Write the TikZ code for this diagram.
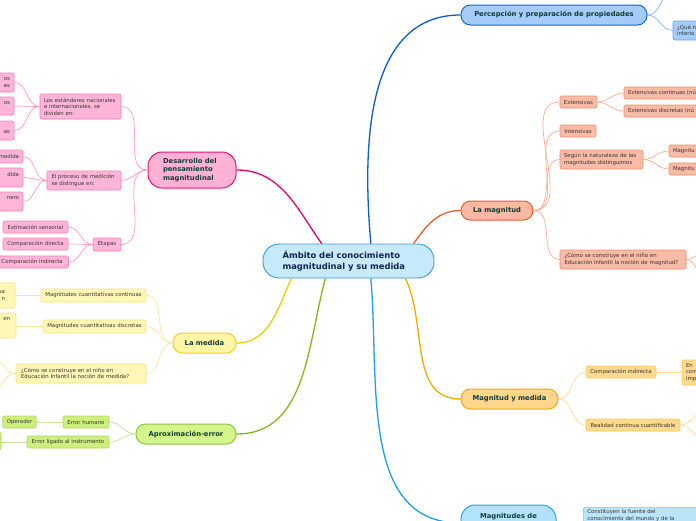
\documentclass[tikz,border=0pt]{standalone}
\usepackage{fontspec}
\setmainfont{DejaVu Sans}
\usepackage{tikz}
\usetikzlibrary{arrows,shapes,positioning}

\definecolor{ctrF}{HTML}{C6E9FC}\definecolor{ctrD}{HTML}{3A98D8}\definecolor{ctrT}{HTML}{10264D}
\definecolor{ttl}{HTML}{123D36}\definecolor{txt}{HTML}{3A3434}
\definecolor{pkF}{HTML}{FFB0D5}\definecolor{pkD}{HTML}{E8137A}\definecolor{pkE}{HTML}{E8006E}
\definecolor{pkf}{HTML}{FFB5D8}\definecolor{pkd}{HTML}{F47FB8}\definecolor{pke}{HTML}{FF9ACB}
\definecolor{ylF}{HTML}{FFF6A6}\definecolor{ylD}{HTML}{EED41A}\definecolor{ylE}{HTML}{E8CF00}
\definecolor{ylf}{HTML}{FFF7B5}\definecolor{yld}{HTML}{F5E27A}\definecolor{yle}{HTML}{F5E79A}
\definecolor{grF}{HTML}{D3F58C}\definecolor{grD}{HTML}{8DC63F}\definecolor{grE}{HTML}{84B817}
\definecolor{grf}{HTML}{CDEF7E}\definecolor{grd}{HTML}{ADD85F}\definecolor{gre}{HTML}{C5E39C}
\definecolor{blF}{HTML}{A5CCF8}\definecolor{blD}{HTML}{1762D4}\definecolor{blE}{HTML}{0A5BCC}
\definecolor{blf}{HTML}{A5CCF8}\definecolor{bld}{HTML}{6BA2EC}\definecolor{ble}{HTML}{86B5EF}
\definecolor{smF}{HTML}{FBB8A3}\definecolor{smD}{HTML}{EE5A2A}\definecolor{smE}{HTML}{F05A28}
\definecolor{smf}{HTML}{F9BBA5}\definecolor{smd}{HTML}{F08E70}\definecolor{sme}{HTML}{F7AE96}
\definecolor{orF}{HTML}{FFD68A}\definecolor{orD}{HTML}{F5A800}\definecolor{orE}{HTML}{F5A800}
\definecolor{orf}{HTML}{FFD98C}\definecolor{ord}{HTML}{FFC75C}\definecolor{ore}{HTML}{FFDA99}
\definecolor{lbF}{HTML}{B3E2FB}\definecolor{lbD}{HTML}{29A4EA}\definecolor{lbE}{HTML}{1E9FE8}
\definecolor{lbf}{HTML}{B9E5FB}\definecolor{lbd}{HTML}{7CC7F1}

\begin{document}
\begin{tikzpicture}[x=1pt,y=-1pt,
    every node/.style={font=\fontsize{5.4}{6.5}\selectfont,text=txt},
    sub/.style={draw,rounded corners=2pt,line width=0.6pt,inner xsep=4pt,inner ysep=1.5pt,minimum height=12pt},
    big/.style={draw,rounded corners=9.5pt,line width=1pt,font=\bfseries\fontsize{6.8}{8.5}\selectfont,text=ttl,minimum height=20pt},
    tie/.style={line width=0.7pt},
    trunk/.style={line width=1.3pt},
    pk/.style={sub,fill=pkf,draw=pkd},yl/.style={sub,fill=ylf,draw=yld},
    gr/.style={sub,fill=grf,draw=grd},bl/.style={sub,fill=blf,draw=bld},
    sm/.style={sub,fill=smf,draw=smd},or/.style={sub,fill=orf,draw=ord},
    lb/.style={sub,fill=lbf,draw=lbd}]
\useasboundingbox (0,0) rectangle (696,520);
\fill[white] (0,0) rectangle (696,520);
\clip (0,0) rectangle (696,520);

\node[draw=ctrD,fill=ctrF,line width=0.9pt,rounded corners=16pt,minimum width=171pt,minimum height=34pt,
      text width=132pt,align=left,font=\bfseries\fontsize{8.4}{11}\selectfont,text=ctrT] (C) at (348.5,261)
      {Ámbito del conocimiento\\magnitudinal y su medida};

\node[big,fill=pkF,draw=pkD,minimum width=88pt,minimum height=36pt,text width=58pt,align=left,rounded corners=14pt] (D) at (192,170)
      {Desarrollo del\\pensamiento\\magnitudinal};
\node[big,fill=ylF,draw=ylD,minimum width=63pt] (Med) at (204.5,343) {La medida};
\node[big,fill=grF,draw=grD,minimum width=100pt] (Apr) at (186,434) {Aproximación-error};
\node[big,fill=blF,draw=blD,minimum width=186pt] (P) at (554,15) {Percepción y preparación de propiedades};
\node[big,fill=smF,draw=smD,minimum width=72pt,minimum height=19pt] (Mag) at (497,210.5) {La magnitud};
\node[big,fill=orF,draw=orD,minimum width=97pt] (MyM) at (509.5,399) {Magnitud y medida};
\node[big,fill=lbF,draw=lbD,minimum width=95pt,minimum height=36pt,text depth=15pt,rounded corners=14pt] (Mde) at (508.5,523) {Magnitudes de};

% desarrollo
\node[pk,minimum width=81pt,minimum height=25pt,text width=73pt,align=left] (E1) at (80.5,106.5)
      {Los estándares nacionales\\e internacionales, se\\dividen en:};
\node[pk,minimum width=74pt,minimum height=19pt,text width=65pt,align=left] (E2) at (84,180.5)
      {El proceso de medición\\se distingue en:};
\node[pk,minimum width=28pt,minimum height=13pt] (E3) at (107,244.5) {Etapas};
\node[pk,minimum width=54pt,minimum height=19pt,text width=46pt,align=right] (E1a) at (-13,82.5) {os\\es};
\node[pk,minimum width=54pt,minimum height=18pt,text width=46pt,align=right] (E1b) at (-13,106) {os\\~};
\node[pk,minimum width=54pt,minimum height=19pt,text width=46pt,align=right] (E1c) at (-13,130.5) {~\\as};
\node[pk,minimum width=61pt,minimum height=13pt,text width=57pt,align=right] (E2a) at (-9.5,156.5) {medida};
\node[pk,minimum width=61pt,minimum height=19pt,text width=57pt,align=right] (E2b) at (-9.5,177.5) {dida\\~};
\node[pk,minimum width=61pt,minimum height=19pt,text width=57pt,align=right] (E2c) at (-9.5,201.5) {nero\\~};
\node[pk,minimum width=65pt] (E3a) at (35.5,227) {Estimación sensorial};
\node[pk,minimum width=65pt] (E3b) at (35.5,244) {Comparación directa};
\node[pk,minimum width=70pt,text width=63pt,align=left] (E3c) at (33,262) {Comparación indirecta};

% medida
\node[yl,minimum width=105pt,minimum height=13pt] (M1) at (93.5,295.5) {Magnitudes cuantitativas continuas};
\node[yl,minimum width=103pt,minimum height=13pt] (M2) at (94.5,326.5) {Magnitudes cuantitativas discretas};
\node[yl,minimum width=130pt,minimum height=19pt,text width=120pt,align=left] (M3) at (81,373.5)
      {¿Cómo se construye en el niño en\\Educación Infantil la noción de medida?};
\node[yl,minimum width=55pt,minimum height=25pt,text width=35pt,align=right] (M1a) at (-12.5,295.5) {sa\\n};
\node[yl,minimum width=56pt,minimum height=25pt,text width=44pt,align=right] (M2a) at (-12,325.5) {en\\~\\~};
\coordinate (m3a) at (-10,356);
\coordinate (m3b) at (-10,392);

% error
\node[gr,minimum width=46pt] (A1) at (86,422) {Error humano};
\node[gr,minimum width=33pt] (A1a) at (19.5,422) {Operador};
\node[gr,minimum width=82pt] (A2) at (68,442) {Error ligado al instrumento};
\node[gr,minimum width=41pt,minimum height=18pt] (A2a) at (-19.5,441) {};

% percepcion
\coordinate (p1) at (674,-8);
\node[bl,minimum width=47pt,minimum height=19pt,text width=39pt,align=left] (P2) at (696.5,30.5) {¿Qué n\\interio};

% magnitud
\node[sm,minimum width=37pt] (G1) at (578.5,102) {Extensivas};
\node[sm,minimum width=96pt,text width=88pt,align=left] (G1a) at (672,93) {Extensivas continuas (nú};
\node[sm,minimum width=96pt,text width=88pt,align=left] (G1b) at (672,111) {Extensivas discretas (nú};
\node[sm,minimum width=36pt] (G2) at (578,131) {Intensivas};
\node[sm,minimum width=83pt,minimum height=19pt,text width=75pt,align=left] (G3) at (601.5,159.5)
      {Según la naturaleza de las\\magnitudes distinguimos};
\node[sm,minimum width=51pt,text width=43pt,align=left] (G3a) at (694.5,151) {Magnitu};
\node[sm,minimum width=51pt,text width=43pt,align=left] (G3b) at (694.5,169) {Magnitu};
\node[sm,minimum width=126pt,minimum height=19pt,text width=117pt,align=left] (G4) at (623,259.5)
      {¿Cómo se construye en el niño en\\Educación Infantil la noción de magnitud?};
\coordinate (g4a) at (706,252);
\coordinate (g4b) at (706,276);

% magnitud y medida
\node[or,minimum width=70pt] (O1) at (621,372) {Comparación indirecta};
\node[or,minimum width=38pt,minimum height=25pt,text width=30pt,align=left] (O1a) at (701,372.5) {En\\com\\imp};
\node[or,minimum width=94pt] (O2) at (633,425) {Realidad continua cuantificable};
\coordinate (o2a) at (706,411);
\coordinate (o2b) at (706,440);

% magnitudes de
\node[lb,anchor=north west,minimum height=0pt,minimum width=137pt,text width=129pt,align=left,inner ysep=2.5pt] (L1) at (583,507)
      {Constituyen la fuente del\\conocimiento del mundo y de la};

\path[trunk]
    (C.147) edge[pkE,out=125,in=0] (D.east)
    (C.197) edge[ylE,out=245,in=0] (Med.east)
    (C.217) edge[grE,out=255,in=0] (Apr.east)
    (C.38)  edge[blE,out=95,in=180] (P.west)
    (C.15)  edge[smE,out=55,in=180] (Mag.west)
    (C.-17) edge[orE,out=-65,in=180] (MyM.west)
    (C.-38) edge[lbE,out=-85,in=180] (Mde.west);

\path[tie,pke]
    (D.west) edge[out=180,in=0] (E1.east)
             edge[out=180,in=0] (E2.east)
             edge[out=180,in=0] (E3.east)
    (E1.west) edge[out=180,in=0] (E1a.east)
              edge[out=180,in=0] (E1b.east)
              edge[out=180,in=0] (E1c.east)
    (E2.west) edge[out=180,in=0] (E2a.east)
              edge[out=180,in=0] (E2b.east)
              edge[out=180,in=0] (E2c.east)
    (E3.west) edge[out=180,in=0] (E3a.east)
              edge[out=180,in=0] (E3b.east)
              edge[out=180,in=0] (E3c.east);
\path[tie,yle]
    (Med.west) edge[out=180,in=0] (M1.east)
               edge[out=180,in=0] (M2.east)
               edge[out=180,in=0] (M3.east)
    (M1.west) edge (M1.west -| M1a.east)
    (M2.west) edge (M2.west -| M2a.east)
    (M3.west) edge[out=180,in=0] (m3a)
              edge[out=180,in=0] (m3b);
\path[tie,gre]
    (Apr.west) edge[out=180,in=0] (A1.east)
               edge[out=180,in=0] (A2.east)
    (A1.west) edge (A1a.east)
    (A2.west) edge (A2.west -| A2a.east);
\path[tie,ble]
    (P.east) edge[out=0,in=180] (p1)
             edge[out=0,in=180] (P2.west);
\path[tie,sme]
    (Mag.east) edge[out=0,in=180] (G1.west)
               edge[out=0,in=180] (G2.west)
               edge[out=0,in=180] (G3.west)
               edge[out=0,in=180] (G4.west)
    (G1.east) edge[out=0,in=180] (G1a.west)
              edge[out=0,in=180] (G1b.west)
    (G3.east) edge[out=0,in=180] (G3a.west)
              edge[out=0,in=180] (G3b.west)
    (G4.east) edge[out=0,in=180] (g4a)
              edge[out=0,in=180] (g4b);
\path[tie,ore]
    (MyM.east) edge[out=0,in=180] (O1.west)
               edge[out=0,in=180] (O2.west)
    (O1.east) edge (O1.east -| O1a.west)
    (O2.east) edge[out=0,in=180] (o2a)
              edge[out=0,in=180] (o2b);
\path[tie,lbd]
    (Mde.east) edge (Mde.east -| L1.west);
\end{tikzpicture}
\end{document}
